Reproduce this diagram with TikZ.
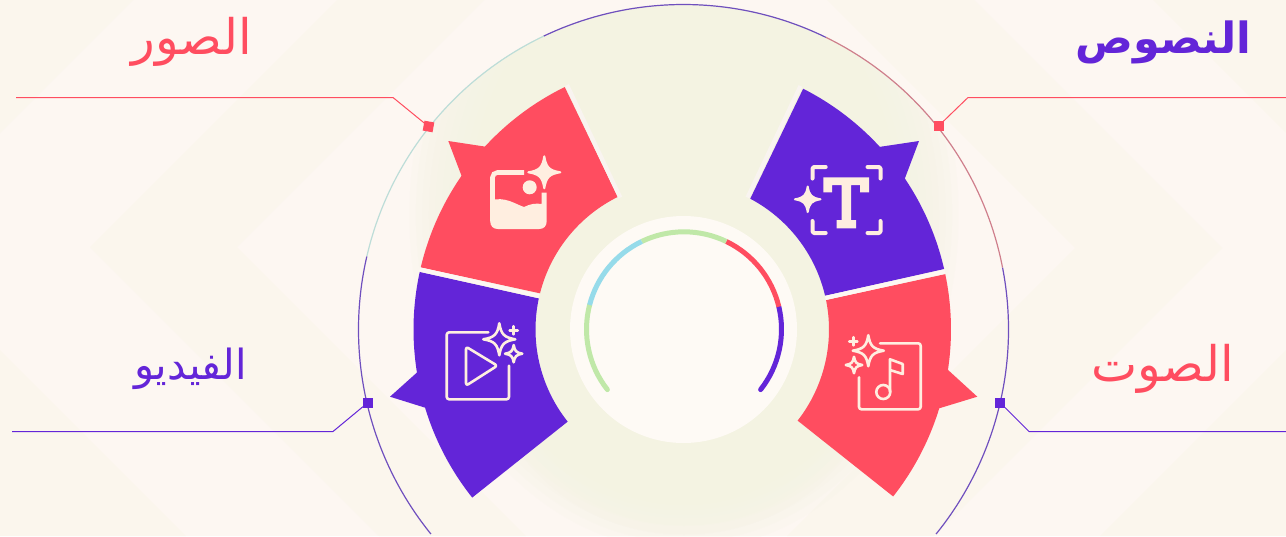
\documentclass[tikz,border=0pt]{standalone}
\usepackage{fontspec}
\TeXXeTstate=1
\newfontfamily\arabicfont[Script=Arabic]{DejaVu Sans}
\definecolor{bgband}{HTML}{FBF6ED}
\definecolor{bgpink}{HTML}{FDF7F2}
\definecolor{cream}{HTML}{F4F3E2}
\definecolor{vio}{HTML}{6325D8}
\definecolor{rose}{HTML}{FF4D60}
\definecolor{leaf}{HTML}{C0E8A8}
\definecolor{sky}{HTML}{96DBEA}
\definecolor{ink}{HTML}{FFEEE0}
\definecolor{strip}{HTML}{F9F4F0}
\definecolor{hub}{HTML}{FEFAF5}
\definecolor{ringvio}{HTML}{6F4FBE}
\definecolor{ringrose}{HTML}{CF7F8C}
\definecolor{ringteal}{HTML}{BDDDD8}
\newcommand{\sparkpath}[3]{
  ({#1+#3},{#2}) .. controls ({#1+.3*#3},{#2+.12*#3}) and ({#1+.12*#3},{#2+.3*#3}) .. ({#1},{#2+#3})
  .. controls ({#1-.12*#3},{#2+.3*#3}) and ({#1-.3*#3},{#2+.12*#3}) .. ({#1-#3},{#2})
  .. controls ({#1-.3*#3},{#2-.12*#3}) and ({#1-.12*#3},{#2-.3*#3}) .. ({#1},{#2-#3})
  .. controls ({#1+.12*#3},{#2-.3*#3}) and ({#1+.3*#3},{#2-.12*#3}) .. ({#1+#3},{#2}) -- cycle}
\tikzset{
  icoline/.style={draw=ink,line width=2.6pt,line cap=round,line join=round,rounded corners=2.5pt},
  icofill/.style={fill=ink,draw=ink,line width=2pt,line join=round},
  ringline/.style={line width=1.2pt},
  leader/.style={line width=1pt},
  sq/.style={minimum size=10pt,inner sep=0pt,outer sep=0pt},
  gapline/.style={line width=4.2pt},
  gauge/.style={line width=5pt},
  lab/.style={inner sep=0pt,font=\arabicfont}
}
\begin{document}
\begin{tikzpicture}[x=1pt,y=-1pt]
\useasboundingbox (0,0) rectangle (1286,536);
\begin{scope}
\clip (0,0) rectangle (1286,536);
% background
\fill[bgpink] (0,0) rectangle (1286,536);
\fill[bgband] (90,247) -- (337,0) -- (484,0) -- (237,247) -- (526,536) -- (379,536) -- cycle;
\fill[bgband] (1222,248) -- (974,0) -- (827,0) -- (1075,248) -- (787,536) -- (934,536) -- cycle;
\fill[bgband] (0,0) -- (133,0) -- (0,133) -- cycle;
\fill[bgband] (0,350) -- (186,536) -- (0,536) -- cycle;
\fill[bgband] (1286,0) -- (1153,0) -- (1286,133) -- cycle;
\fill[bgband] (1286,350) -- (1100,536) -- (1286,536) -- cycle;
% cream glow inside the ring
\begin{scope}
\clip (683.5,329.5) circle [radius=325pt];
\foreach \rr in {335,327,...,215}{
  \fill[cream,opacity=.16] (684,215) ellipse [x radius=.82*\rr pt,y radius=\rr pt];
}
\foreach \rr in {205,195,...,150}{
  \fill[cream,opacity=.18] (684,330) circle [radius=\rr pt];
}
\end{scope}
% ring
\begin{scope}[shift={(683.5,329.5)},y=1pt]
\draw[ringline,draw=ringvio] (219:325pt) arc[start angle=219,end angle=167,radius=325pt];
\draw[ringline,draw=ringvio] (-39:325pt) arc[start angle=-39,end angle=11,radius=325pt];
\draw[ringline,draw=ringvio] (64:325pt) arc[start angle=64,end angle=115.5,radius=325pt];
\draw[ringline,draw=ringrose] (11:325pt) arc[start angle=11,end angle=64,radius=325pt];
\draw[ringline,draw=ringteal] (115.5:325pt) arc[start angle=115.5,end angle=167,radius=325pt];
\end{scope}
% left segments
\begin{scope}[shift={(683.5,329.5)},y=1pt]
\fill[rose] (116.1:270) arc[start angle=116.1,end angle=137.35,radius=270pt]
  -- (-235.2,188.5) -- (145.3:270) arc[start angle=145.3,end angle=166.7,radius=270pt]
  -- (165.84:148) arc[start angle=165.84,end angle=116.4,radius=148pt] -- cycle;
\fill[vio] (167.7:270) arc[start angle=167.7,end angle=189.17,radius=270pt]
  -- (-293.5,-67.2) -- (196.83:270) arc[start angle=196.83,end angle=218.5,radius=270pt]
  -- (218.5:148) arc[start angle=218.5,end angle=167.9,radius=148pt] -- cycle;
\end{scope}
% right segments
\begin{scope}[shift={(681,329.5)},y=1pt]
\fill[vio] (63.1:270) arc[start angle=63.1,end angle=42.57,radius=270pt]
  -- (238,188.5) -- (34:270) arc[start angle=34,end angle=12.95,radius=270pt]
  -- (13.2:148) arc[start angle=13.2,end angle=62.1,radius=148pt] -- cycle;
\fill[rose] (11.83:270) arc[start angle=11.83,end angle=-8.6,radius=270pt]
  -- (296.3,-67.2) -- (-16.97:270) arc[start angle=-16.97,end angle=-38.2,radius=270pt]
  -- (-38:148) arc[start angle=-38,end angle=11.5,radius=148pt] -- cycle;
\end{scope}
% gaps
\draw[gapline,draw=strip] (567,85) -- (620.3,197.6);
\draw[gapline,draw=strip] (800.5,86) -- (747.5,197.5);
\draw[gapline,draw=bgpink] (419.3,269.3) -- (539.3,296);
\draw[gapline,draw=bgpink] (945,271.5) -- (825.3,298);
% centre
\fill[hub] (683.5,329.5) circle [radius=113.5pt];
\begin{scope}[shift={(684,329.3)},y=1pt]
\draw[gauge,draw=vio,line cap=round] (-38.2:97.5) arc[start angle=-38.2,end angle=13.4,radius=97.5pt];
\draw[gauge,draw=leaf,line cap=round] (218.2:97.5) arc[start angle=218.2,end angle=165.5,radius=97.5pt];
\draw[gauge,draw=rose] (13.4:97.5) arc[start angle=13.4,end angle=64.3,radius=97.5pt];
\draw[gauge,draw=leaf] (64.3:97.5) arc[start angle=64.3,end angle=115.7,radius=97.5pt];
\draw[gauge,draw=sky] (115.7:97.5) arc[start angle=115.7,end angle=165.5,radius=97.5pt];
\end{scope}
% image icon
\draw[ink,line width=4.6pt,rounded corners=5pt] (524,172.5) -- (492.5,172.5) -- (492.5,205);
\fill[ink] (490.2,200.5) .. controls (505,196) and (515,204) .. (524,207) .. controls (530,204) and (536,203) .. (541.5,204)
  -- (541.5,192.7) -- (546.7,192.7) -- (546.7,221) .. controls (546.7,226) and (544,229) .. (539,229)
  -- (498,229) .. controls (493,229) and (490.2,226) .. (490.2,221) -- cycle;
\fill[ink] (529.7,187.3) circle [radius=7pt];
\filldraw[icofill] \sparkpath{544.3}{172.3}{16};
% text icon
\foreach \sx/\sy/\ex/\ey/\cx/\cy in {825.7/167/812.5/178.5/812.5/167, 867.5/167/880.5/178.5/880.5/167, 825.7/233/812.5/221/812.5/233, 867.5/233/880.5/221/880.5/233}{
  \draw[ink,line width=4pt,line cap=round,line join=round,rounded corners=1.5pt] (\sx,\sy) -- (\cx,\cy) -- (\ex,\ey);
}
\fill[ink] (823.3,177.3) -- (869,177.3) -- (869,192.3) -- (860,192.3) -- (860,185) -- (851,185) -- (851,220) -- (856,220) -- (856,228.3) -- (836.7,228.3) -- (836.7,220) -- (841.5,220) -- (841.5,185) -- (832,185) -- (832,192.3) -- (823.3,192.3) -- cycle;
\filldraw[icofill] \sparkpath{807.7}{199.3}{12.8};
% video icon
\draw[icoline] (488.3,332.3) -- (446.7,332.3) -- (446.7,399.3) -- (509,399.3) -- (509,365.7);
\draw[icoline] (466,346.7) -- (497.3,365.7) -- (466,385.7) -- cycle;
\draw[ink,line width=2.6pt,line join=round,fill=vio] \sparkpath{499.3}{339.3}{16};
\draw[ink,line width=2.6pt,line join=round] \sparkpath{513.7}{353.7}{8.6};
\draw[ink,line width=2.6pt,line cap=round] (509.6,330.3) -- (517.8,330.3) (513.7,326.2) -- (513.7,334.4);
% audio icon
\draw[icoline] (880,343.3) -- (920.7,343.3) -- (920.7,409.3) -- (859,409.3) -- (859,377.3);
\draw[ink,line width=2.6pt,line join=round,fill=rose] \sparkpath{868.3}{350.7}{15.5};
\draw[ink,line width=2.6pt,line join=round] \sparkpath{854}{365}{8.2};
\draw[ink,line width=2.6pt,line cap=round] (849.2,341.3) -- (857.4,341.3) (853.3,337.2) -- (853.3,345.4);
\draw[ink,line width=2.6pt] (883.3,392) circle [radius=7pt];
\draw[ink,line width=2.6pt,line join=round] (890,392) -- (890,359.3) -- (902.7,364) -- (902.7,374) -- (890,370);
% leaders
\node[sq,fill=rose,rotate=-10] (m1) at (428.5,126.5) {};
\node[sq,fill=rose] (m2) at (938.5,126) {};
\node[sq,fill=vio] (m3) at (368,402.5) {};
\node[sq,fill=vio] (m4) at (1000,402.5) {};
\coordinate (e1) at (16,97.5);
\coordinate (e2) at (1286,97.5);
\coordinate (e3) at (12,431.5);
\coordinate (e4) at (1286,431.5);
\draw[leader,draw=rose] (e1) -- (393,97.5) -- (m1);
\draw[leader,draw=rose] (e2) -- (968,97.5) -- (m2);
\draw[leader,draw=vio] (e3) -- (333,431.5) -- (m3);
\draw[leader,draw=vio] (e4) -- (1029,431.5) -- (m4);
% labels
\node[lab,text=rose,font=\arabicfont\fontsize{49}{50}\selectfont] (t1) at (192,42) {\beginR الصور\endR};
\node[lab,text=vio,font=\arabicfont\bfseries\fontsize{43}{45}\selectfont] (t2) at (1163.5,42.5) {\beginR النصوص\endR};
\node[lab,text=vio,font=\arabicfont\fontsize{41.5}{43}\selectfont] (t3) at (190.5,369) {\beginR الفيديو\endR};
\node[lab,text=rose,font=\arabicfont\fontsize{49}{50}\selectfont] (t4) at (1162.5,369) {\beginR الصوت\endR};
\end{scope}
\end{tikzpicture}
\end{document}
